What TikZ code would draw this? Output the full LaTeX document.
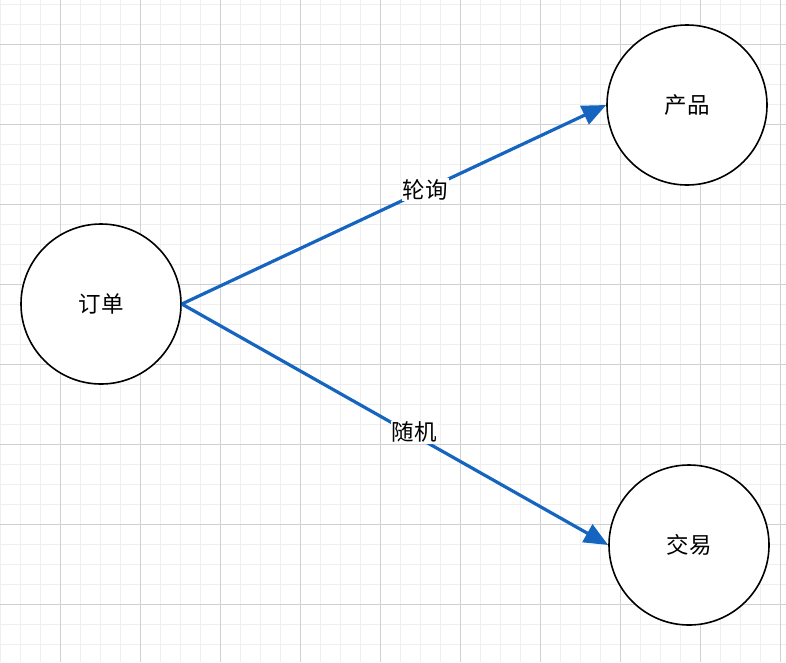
\documentclass[tikz,border=0pt]{standalone}
\usepackage{fontspec}
\setmainfont{Noto Sans CJK SC}
\usetikzlibrary{arrows.meta}
\definecolor{edgeblue}{HTML}{1565C0}
\definecolor{gridminor}{HTML}{EFEFEF}
\definecolor{gridmajor}{HTML}{D0D0D0}
\tikzset{
  entity/.style={circle, draw=black, line width=1.6pt, fill=white, minimum size=160pt, inner sep=0pt, font=\fontsize{22.5}{26}\selectfont},
  link/.style={draw=edgeblue, line width=3.2pt, -{Triangle[length=24pt,width=20pt]}},
  linklabel/.style={fill=white, inner sep=1pt, font=\fontsize{22.5}{26}\selectfont}
}
\begin{document}
\begin{tikzpicture}[x=1pt,y=-1pt]
\useasboundingbox (0,0) rectangle (786,662);
\fill[white] (0,0) rectangle (786,662);
% minor grid
\foreach \x in {0,20,...,780} \draw[gridminor, line width=0.8pt] (\x,0) -- (\x,662);
\foreach \y in {4,24,...,662} \draw[gridminor, line width=0.8pt] (0,\y) -- (786,\y);
% major grid
\foreach \x in {60,140,...,780} \draw[gridmajor, line width=0.8pt] (\x,0) -- (\x,662);
\foreach \y in {44,124,...,662} \draw[gridmajor, line width=0.8pt] (0,\y) -- (786,\y);
\node[entity] (order) at (101,304) {订单};
\node[entity] (product) at (687,105) {产品};
\node[entity] (trade) at (689,545) {交易};
\draw[link] (order.east) -- node[linklabel, pos=0.574] (l1) {轮询} (product.west);
\draw[link] (order.east) -- node[linklabel, pos=0.545, yshift=3pt] (l2) {随机} (trade.west);
\end{tikzpicture}
\end{document}
